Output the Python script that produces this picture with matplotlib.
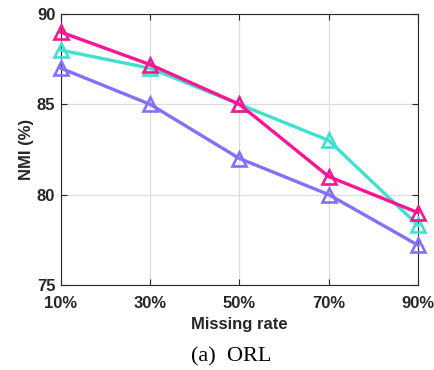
import numpy as np
import matplotlib
matplotlib.use('Agg')
import matplotlib.pyplot as plt

# data
rates = ['10%', '30%', '50%', '70%', '90%']
nmi_purple = [87.0, 85.0, 82.0, 80.0, 77.2]
nmi_teal = [88.0, 87.0, 85.0, 83.0, 78.3]
nmi_pink = [89.0, 87.2, 85.0, 81.0, 79.0]
y_ticks = [75, 80, 85, 90]

plt.rcParams['font.family'] = ['Liberation Sans', 'DejaVu Sans']

fig = plt.figure(figsize=(4.35, 3.7), dpi=100)
ax = fig.add_axes([0.140, 0.230, 0.821, 0.732])

x = np.arange(len(rates))
series = [(nmi_purple, '#8470FF'), (nmi_teal, '#40E0D0'), (nmi_pink, '#FF1493')]
for vals, col in series:
    ax.plot(x, vals, color=col, lw=2.4, marker='^', markersize=10.5,
            markerfacecolor='none', markeredgecolor=col, markeredgewidth=1.9,
            clip_on=False, zorder=3)

ax.set_xlim(0, len(rates) - 1)
ax.set_ylim(75, 90)
ax.set_xticks(x)
ax.set_xticklabels(rates)
ax.set_yticks(y_ticks)
ax.grid(True, color='#dddddd', lw=0.9)
ax.set_axisbelow(True)
ax.tick_params(direction='in', top=True, right=True, length=4, width=0.8,
               labelsize=12, colors='#262626')
ax.tick_params(axis='x', pad=8)
ax.tick_params(axis='y', pad=4)
for lab in ax.get_xticklabels() + ax.get_yticklabels():
    lab.set_fontweight('bold')
for sp in ax.spines.values():
    sp.set_color('#262626')
    sp.set_linewidth(0.8)

ax.set_xlabel('Missing rate', fontsize=12, fontweight='bold', color='#262626', labelpad=4)
ax.set_ylabel('NMI (%)', fontsize=12, fontweight='bold', color='#262626', labelpad=2)

fig.text(0.531, 0.035, '(a)  ORL', ha='center', va='center', fontsize=16,
         family=['Liberation Serif', 'DejaVu Serif'])

fig.savefig('out.png', dpi=100)
